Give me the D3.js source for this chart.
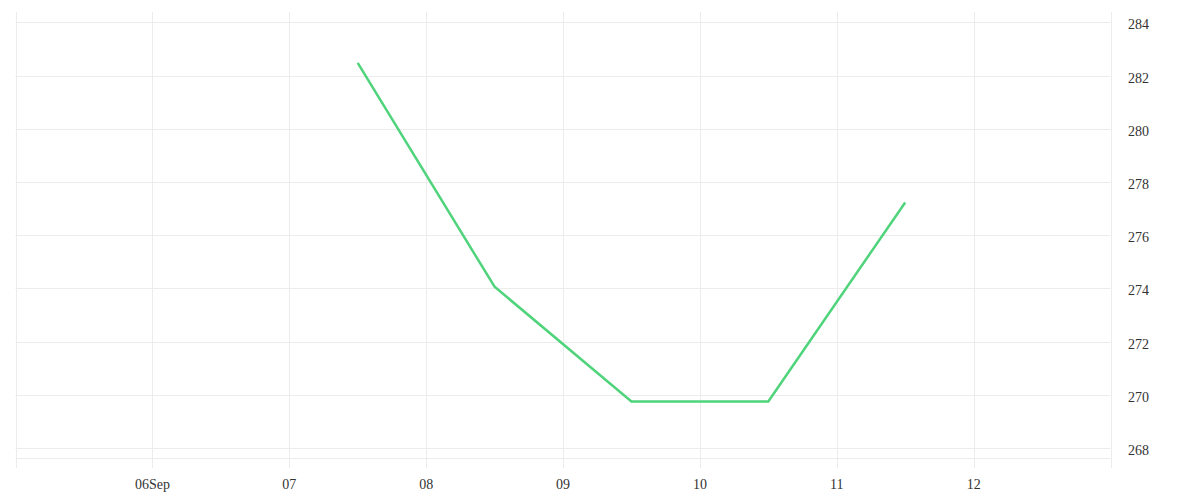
<!DOCTYPE html>
<html>
<head>
<meta charset="utf-8">
<script src="https://cdn.jsdelivr.net/npm/d3@7"></script>
<style>
  body { margin: 0; background: #fff; }
  text { font-family: "Liberation Serif", serif; }
</style>
</head>
<body>
<div id="chart"></div>
<script>
// data
const dates = ["2023-09-07T12:00", "2023-09-08T12:00", "2023-09-09T12:00", "2023-09-10T12:00", "2023-09-11T12:00"];
const values = [282.48, 274.06, 269.75, 269.75, 277.23];
const yTicks = [268, 270, 272, 274, 276, 278, 280, 282, 284];
const xTicks = ["2023-09-06", "2023-09-07", "2023-09-08", "2023-09-09", "2023-09-10", "2023-09-11", "2023-09-12"];
const xLabels = ["06Sep", "07", "08", "09", "10", "11", "12"];

const width = 1200, height = 500;
const plot = { left: 15.5, right: 1110.5, top: 12, bottom: 458.3, tickBottom: 468 };

const parse = d3.timeParse("%Y-%m-%dT%H:%M");
const parseDay = d3.timeParse("%Y-%m-%d");

const svg = d3.select("#chart")
  .append("svg")
  .attr("width", width)
  .attr("height", height);

const x = d3.scaleTime()
  .domain([parseDay("2023-09-05"), parseDay("2023-09-13")])
  .range([plot.left, plot.right]);

const y = d3.scaleLinear()
  .domain([267.61, 284.39])
  .range([plot.bottom, plot.top]);

const grid = "#ececec";

// horizontal grid
svg.append("g")
  .selectAll("line")
  .data(yTicks)
  .enter()
  .append("line")
  .attr("x1", plot.left)
  .attr("x2", plot.right)
  .attr("y1", d => Math.round(y(d)) + 0.5)
  .attr("y2", d => Math.round(y(d)) + 0.5)
  .attr("stroke", grid);

// bottom line of the plot area
svg.append("line")
  .attr("x1", plot.left).attr("x2", plot.right)
  .attr("y1", Math.round(plot.bottom) + 0.5).attr("y2", Math.round(plot.bottom) + 0.5)
  .attr("stroke", grid);

// vertical grid (incl. plot edges)
const vLines = [parseDay("2023-09-05")].concat(xTicks.map(parseDay), [parseDay("2023-09-13")]);
svg.append("g")
  .selectAll("line")
  .data(vLines)
  .enter()
  .append("line")
  .attr("x1", d => Math.round(x(d)) + 0.5)
  .attr("x2", d => Math.round(x(d)) + 0.5)
  .attr("y1", plot.top)
  .attr("y2", plot.tickBottom)
  .attr("stroke", grid);

// x labels
svg.append("g")
  .selectAll("text")
  .data(xTicks)
  .enter()
  .append("text")
  .attr("x", d => x(parseDay(d)))
  .attr("y", 489)
  .attr("text-anchor", "middle")
  .attr("font-size", 14)
  .attr("fill", "#333")
  .text((d, i) => xLabels[i]);

// y labels
svg.append("g")
  .selectAll("text")
  .data(yTicks)
  .enter()
  .append("text")
  .attr("x", 1128)
  .attr("y", d => y(d) + 7)
  .attr("font-size", 14)
  .attr("fill", "#333")
  .text(d => d);

// the line
const line = d3.line()
  .x((d, i) => x(parse(dates[i])))
  .y(d => y(d));

svg.append("path")
  .datum(values)
  .attr("d", line)
  .attr("fill", "none")
  .attr("stroke", "#4fd47b")
  .attr("stroke-width", 2.5);
</script>
</body>
</html>
